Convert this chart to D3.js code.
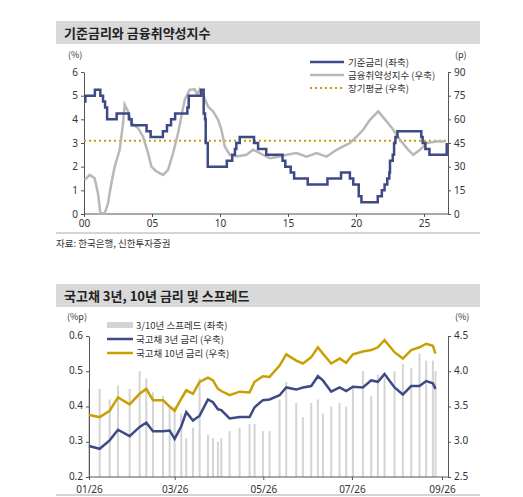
<!DOCTYPE html><html><head><meta charset="utf-8"><script src="https://cdn.jsdelivr.net/npm/d3@7"></script>
<style>body{margin:0;background:#fff;font-family:"Noto Sans CJK KR","Noto Sans",sans-serif}</style></head><body><svg id="c" width="523" height="497"></svg>
<script>
// Top chart data
const baseYears=[2000.0,2000.1,2000.8,2001.2,2001.4,2001.55,2001.7,2002.4,2003.3,2003.5,2004.6,2004.9,2005.8,2006.1,2006.4,2006.7,2007.6,2007.7,2008.6,2008.8,2008.9,2008.95,2009.1,2010.5,2010.9,2011.1,2011.2,2011.45,2012.5,2012.8,2013.4,2014.6,2014.8,2015.2,2015.45,2016.45,2017.9,2018.9,2019.55,2019.8,2020.2,2020.4,2021.6,2021.9,2022.1,2022.3,2022.45,2022.5,2022.7,2022.8,2022.9,2023.05,2024.8,2024.9,2025.1,2025.4,2026.55,2026.67];
const baseRate=[4.75,5.0,5.25,5.0,4.75,4.5,4.0,4.25,4.0,3.75,3.5,3.25,3.5,3.75,4.0,4.25,4.5,5.0,5.25,4.25,4.0,3.0,2.0,2.25,2.5,2.75,3.0,3.25,3.0,2.75,2.5,2.25,2.0,1.75,1.5,1.25,1.5,1.75,1.5,1.25,0.75,0.5,0.75,1.0,1.25,1.5,1.75,2.25,2.5,3.0,3.25,3.5,3.25,3.0,2.75,2.5,2.5,3.0];
const fviZx=[105,120,135,145,152,165,175,185,195,210,220,225,235,245,265,280,295,305,320,340,355,370,385,395,405,420,435,442,450,460,475,490,505,515,525,540,560,590,610,640,660,690,710,740,770,800,830,860,880,900,920,940,960,985,1010,1030,1050,1075,1090,1110,1130,1160,1185];
const fviVal=[21.6,24.8,22.7,13,0.4,0.4,6.8,19.5,30,40.7,57.6,69.3,65,57.6,54.5,49,38.6,30,27,24.8,28,38.6,51.3,62,72.5,78.8,79,75.6,79,75.6,68,65,59.7,53.4,42.8,37.5,36.4,37.5,40.7,37.5,35.4,36.4,37.5,38.6,36.4,38.6,36.4,40.7,42.8,45,49,53.4,59.7,65,58.7,53.4,47,40.7,37.5,40.7,45,46,46];
const fviYears=fviZx.map(z=>2000+(z-103)/40.76);
const longAvg=46.5;
const topXTicks=[2000,2005,2010,2015,2020,2025], topXLabels=["00","05","10","15","20","25"];
// Bottom chart data (days since 01/26)
const bondZx=[118,150,180,205,240,270,290,310,340,360,375,395,410,430,450,475,490,505,515,540,570,600,615,640,660,690,710,740,760,785,805,820,845,870,890,910,940,965,985,1005,1035,1060,1085,1110,1130,1150,1158];
const y3=[2.94,2.90,3.02,3.17,3.08,3.21,3.27,3.15,3.15,3.16,3.04,3.22,3.42,3.30,3.37,3.60,3.56,3.46,3.45,3.33,3.35,3.35,3.49,3.59,3.60,3.66,3.77,3.74,3.77,3.79,3.93,3.87,3.71,3.77,3.72,3.78,3.77,3.87,3.85,3.96,3.77,3.67,3.79,3.79,3.86,3.83,3.75];
const y10=[3.38,3.35,3.44,3.63,3.53,3.68,3.75,3.59,3.59,3.50,3.44,3.61,3.73,3.68,3.85,3.91,3.87,3.75,3.72,3.66,3.71,3.70,3.85,3.93,3.92,4.08,4.24,4.15,4.11,4.20,4.34,4.25,4.11,4.18,4.12,4.24,4.28,4.30,4.34,4.44,4.27,4.18,4.30,4.34,4.39,4.36,4.25];
const spread=[0.45,0.45,0.42,0.46,0.45,0.50,0.48,0.44,0.43,0.40,0.40,0.38,0.31,0.34,0.48,0.32,0.31,0.30,0.31,0.33,0.34,0.35,0.35,0.33,0.33,0.42,0.47,0.41,0.37,0.41,0.42,0.38,0.40,0.41,0.40,0.46,0.50,0.43,0.49,0.48,0.50,0.52,0.51,0.55,0.53,0.53,0.50];
const bondDays=bondZx.map(z=>(z-118)/4.36);
const botXTicks=[0,59,120,181,243], botXLabels=["01/26","03/26","05/26","07/26","09/26"];

const svg=d3.select("#c");
const NAVY="#3d4a86", GRAY="#b8b8b8", GOLD="#c9a000", BAR="#d4d4d4";
function band(y,t){svg.append("rect").attr("x",56).attr("y",y).attr("width",424).attr("height",23).attr("fill","#d9d9d9");
 svg.append("text").attr("x",64).attr("y",y+17).attr("font-size",13).attr("font-weight","bold").attr("fill","#222").text(t);}
band(21,"기준금리와 금융취약성지수");band(64+220,"국고채 3년, 10년 금리 및 스프레드");
function axisStyle(g){g.selectAll("text").attr("font-size",10).attr("fill","#333").attr("font-family","Noto Sans, sans-serif");g.selectAll("path,line").attr("stroke","#555");}
// Top
const x1=d3.scaleLinear().domain([2000,2025]).range([84,424]);
const yl1=d3.scaleLinear().domain([0,6]).range([214,72]);
const yr1=d3.scaleLinear().domain([0,90]).range([214,72]);
svg.append("g").attr("transform","translate(0,214)").call(d3.axisBottom(x1).tickValues(topXTicks).tickFormat((d,i)=>topXLabels[i]).tickSize(3).tickSizeOuter(0)).call(axisStyle).select(".domain").attr("d","M84,0H448");
svg.append("g").attr("transform","translate(84,0)").call(d3.axisLeft(yl1).ticks(6).tickSize(3).tickSizeOuter(0)).call(axisStyle);
svg.append("g").attr("transform","translate(448,0)").call(d3.axisRight(yr1).tickValues([0,15,30,45,60,75,90]).tickSize(3).tickSizeOuter(0)).call(axisStyle);
svg.append("text").attr("x",68).attr("y",58).attr("font-size",9).attr("fill","#333").text("(%)");
svg.append("text").attr("x",455).attr("y",58).attr("font-size",9).attr("fill","#333").text("(p)");
svg.append("line").attr("x1",84).attr("x2",448).attr("y1",yr1(longAvg)).attr("y2",yr1(longAvg)).attr("stroke",GOLD).attr("stroke-width",2).attr("stroke-dasharray","2,3");
svg.append("path").datum(fviYears.map((d,i)=>[d,fviVal[i]])).attr("d",d3.line().x(d=>x1(d[0])).y(d=>yr1(d[1]))).attr("fill","none").attr("stroke",GRAY).attr("stroke-width",2.5);
svg.append("path").datum(baseYears.map((d,i)=>[d,baseRate[i]])).attr("d",d3.line().curve(d3.curveStepAfter).x(d=>x1(d[0])).y(d=>yl1(d[1]))).attr("fill","none").attr("stroke",NAVY).attr("stroke-width",2.5);
[["기준금리 (좌축)",NAVY,0],["금융취약성지수 (우축)",GRAY,0],["장기평균 (우축)",GOLD,1]].forEach((l,i)=>{const y=62+i*13;
 svg.append("line").attr("x1",310).attr("x2",344).attr("y1",y).attr("y2",y).attr("stroke",l[1]).attr("stroke-width",l[2]?2:2.5).attr("stroke-dasharray",l[2]?"2,3":null);
 svg.append("text").attr("x",348).attr("y",y+3.5).attr("font-size",9.5).attr("fill","#333").text(l[0]);});
svg.append("line").attr("x1",56).attr("x2",480).attr("y1",233).attr("y2",233).attr("stroke","#aaa");
svg.append("text").attr("x",56).attr("y",247).attr("font-size",9.5).attr("fill","#333").text("자료: 한국은행, 신한투자증권");
// Bottom
const x2=d3.scaleLinear().domain([0,243]).range([89,442]);
const yl2=d3.scaleLinear().domain([0.2,0.6]).range([477,336]);
const yr2=d3.scaleLinear().domain([2.5,4.5]).range([477,336]);
svg.selectAll(".bar").data(bondDays).enter().append("rect").attr("x",d=>x2(d)-1).attr("width",2).attr("y",(d,i)=>yl2(spread[i])).attr("height",(d,i)=>477-yl2(spread[i])).attr("fill",BAR);
const xb=svg.append("g").attr("transform","translate(0,477)").call(d3.axisBottom(x2).tickValues(botXTicks).tickFormat((d,i)=>botXLabels[i]).tickSize(3).tickSizeOuter(0)).call(axisStyle);
xb.select(".domain").attr("d","M89,0H448");
xb.selectAll("text").attr("dy","0.95em");
svg.append("g").attr("transform","translate(89,0)").call(d3.axisLeft(yl2).tickValues([0.2,0.3,0.4,0.5,0.6]).tickFormat(d3.format(".1f")).tickSize(3).tickSizeOuter(0)).call(axisStyle).selectAll("text").attr("dy","0.2em");
svg.append("g").attr("transform","translate(448,0)").call(d3.axisRight(yr2).tickValues([2.5,3,3.5,4,4.5]).tickFormat(d3.format(".1f")).tickSize(3).tickSizeOuter(0)).call(axisStyle).selectAll("text").attr("dy","0.2em");
svg.append("text").attr("x",67).attr("y",320).attr("font-size",9).attr("fill","#333").text("(%p)");
svg.append("text").attr("x",455).attr("y",320).attr("font-size",9).attr("fill","#333").text("(%)");
svg.append("path").datum(bondDays.map((d,i)=>[d,y10[i]])).attr("d",d3.line().x(d=>x2(d[0])).y(d=>yr2(d[1]))).attr("fill","none").attr("stroke",GOLD).attr("stroke-width",2.5);
svg.append("path").datum(bondDays.map((d,i)=>[d,y3[i]])).attr("d",d3.line().x(d=>x2(d[0])).y(d=>yr2(d[1]))).attr("fill","none").attr("stroke",NAVY).attr("stroke-width",2.5);
[["3/10년 스프레드 (좌축)",BAR,1],["국고채 3년 금리 (우축)",NAVY,0],["국고채 10년 금리 (우축)",GOLD,0]].forEach((l,i)=>{const y=325+i*14;
 if(l[2])svg.append("rect").attr("x",107).attr("y",y-3).attr("width",26).attr("height",6).attr("fill",l[1]);
 else svg.append("line").attr("x1",107).attr("x2",133).attr("y1",y).attr("y2",y).attr("stroke",l[1]).attr("stroke-width",2.5);
 svg.append("text").attr("x",136).attr("y",y+3.5).attr("font-size",9.5).attr("fill","#333").text(l[0]);});
svg.append("line").attr("x1",56).attr("x2",480).attr("y1",495).attr("y2",495).attr("stroke","#aaa");
</script></body></html>
